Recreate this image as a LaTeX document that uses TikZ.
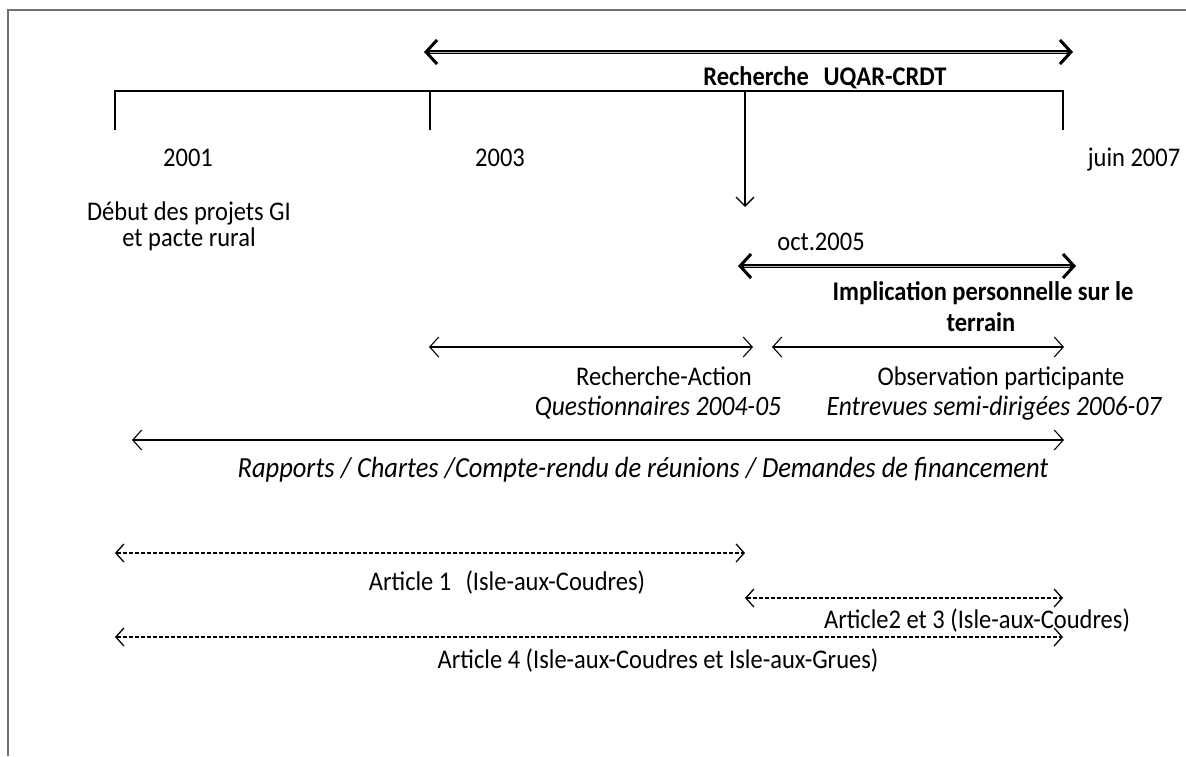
\documentclass[tikz,border=0pt]{standalone}
\usepackage{fontspec}
\usepackage{graphicx}
\setmainfont{Carlito}
\usetikzlibrary{arrows.meta}
\definecolor{framegray}{HTML}{707070}
% slightly taller lettering
\newcommand{\tallText}[1]{\scalebox{1}[1.1]{#1}}
\tikzset{
  lbl/.style={inner sep=0pt, anchor=base, font=\fontsize{24.5}{28}\selectfont},
  blbl/.style={lbl, font=\fontsize{24.5}{28}\selectfont\bfseries},
  ilbl/.style={lbl, font=\fontsize{25.5}{28}\selectfont\itshape},
  thinarrow/.style={line width=1.1pt, {Straight Barb[length=9pt,width=20pt,line width=1.1pt]}-{Straight Barb[length=9pt,width=20pt,line width=1.1pt]}},
  dasharrow/.style={line width=1.3pt, dash pattern=on 4pt off 2pt, {Straight Barb[length=8pt,width=18pt,line width=1.3pt]}-{Straight Barb[length=8pt,width=18pt,line width=1.3pt]}},
  boldarrow/.style={line width=3.2pt, {Straight Barb[length=11pt,width=24pt,line width=3pt]}-{Straight Barb[length=11pt,width=24pt,line width=3pt]}},
  innerstripe/.style={line width=0.9pt, draw=gray!55, shorten <=6pt, shorten >=6pt},
  timeline/.style={line width=1.3pt},
}
\begin{document}
\begin{tikzpicture}[x=1pt,y=-1pt]
\useasboundingbox (0,0) rectangle (1186,756);

% outer frame (top and left edges)
\draw[framegray, line width=2pt] (8,756) -- (8,10) -- (1186,10);

% research period arrow
\coordinate (rA) at (424,52);
\coordinate (rB) at (1073,52);
\draw[boldarrow] (rA) -- (rB);
\draw[innerstripe] (rA) -- (rB);
\node[blbl] (uqar) at (825,85) {\tallText{Recherche\hspace{0.6em}UQAR-CRDT}};

% main time line with ticks
\coordinate (t1) at (115,91);
\coordinate (t1b) at (115,130);
\coordinate (t2) at (430,91);
\coordinate (t2b) at (430,130);
\coordinate (t3) at (1063,91);
\coordinate (t3b) at (1063,130);
\coordinate (t4) at (745,91);
\coordinate (t4b) at (745,207);
\draw[timeline] (t1b) -- (t1) -- (t3) -- (t3b);
\draw[timeline] (t2) -- (t2b);
\draw[line width=1.3pt, -{Straight Barb[length=9pt,width=18pt,line width=1.3pt]}] (t4) -- (t4b);

\node[lbl] (y2001) at (188,166) {\tallText{2001}};
\node[lbl] (y2003) at (500,166) {\tallText{2003}};
\node[lbl] (y2007) at (1134,166) {\tallText{juin 2007}};
\node[lbl] (debut1) at (189,220) {\tallText{Début des projets GI}};
\node[lbl] (debut2) at (189,246) {\tallText{et pacte rural}};
\node[lbl] (oct) at (821,250) {\tallText{oct.2005}};

% personal involvement arrow
\coordinate (iA) at (738,266);
\coordinate (iB) at (1076,266);
\draw[boldarrow] (iA) -- (iB);
\draw[innerstripe] (iA) -- (iB);
\node[blbl] (impl1) at (983,300) {\tallText{Implication personnelle sur le}};
\node[blbl] (impl2) at (981,331) {\tallText{terrain}};

% research-action and participant observation
\coordinate (aA) at (429,347);
\coordinate (aB) at (753,347);
\coordinate (oA) at (772,347);
\coordinate (oB) at (1064,347);
\draw[thinarrow] (aA) -- (aB);
\draw[thinarrow] (oA) -- (oB);
\node[lbl] (ra) at (664,385) {\tallText{Recherche-Action}};
\node[lbl] (op) at (1001,385) {\tallText{Observation participante}};
\node[ilbl] (quest) at (658,415) {\tallText{Questionnaires 2004-05}};
\node[ilbl] (entr) at (994,415) {\tallText{Entrevues semi-dirigées 2006-07}};

% documents
\coordinate (dA) at (132,440);
\coordinate (dB) at (1064,440);
\draw[thinarrow] (dA) -- (dB);
\node[ilbl, font=\fontsize{26.5}{28}\selectfont\itshape] (docs) at (643,477) {\tallText{Rapports / Chartes /Compte-rendu de réunions / Demandes de financement}};

% articles
\coordinate (a1A) at (115,553);
\coordinate (a1B) at (745,553);
\draw[dasharrow] (a1A) -- (a1B);
\node[lbl] (art1) at (507,590) {\tallText{Article 1\hspace{0.35em} (Isle-aux-Coudres)}};

\coordinate (a2A) at (745,598);
\coordinate (a2B) at (1063,598);
\draw[dasharrow] (a2A) -- (a2B);
\node[lbl] (art2) at (977,628) {\tallText{Article2 et 3 (Isle-aux-Coudres)}};

\coordinate (a4A) at (115,637);
\coordinate (a4B) at (1063,637);
\draw[dasharrow] (a4A) -- (a4B);
\node[lbl] (art4) at (658,668) {\tallText{Article 4 (Isle-aux-Coudres et Isle-aux-Grues)}};
\end{tikzpicture}
\end{document}
